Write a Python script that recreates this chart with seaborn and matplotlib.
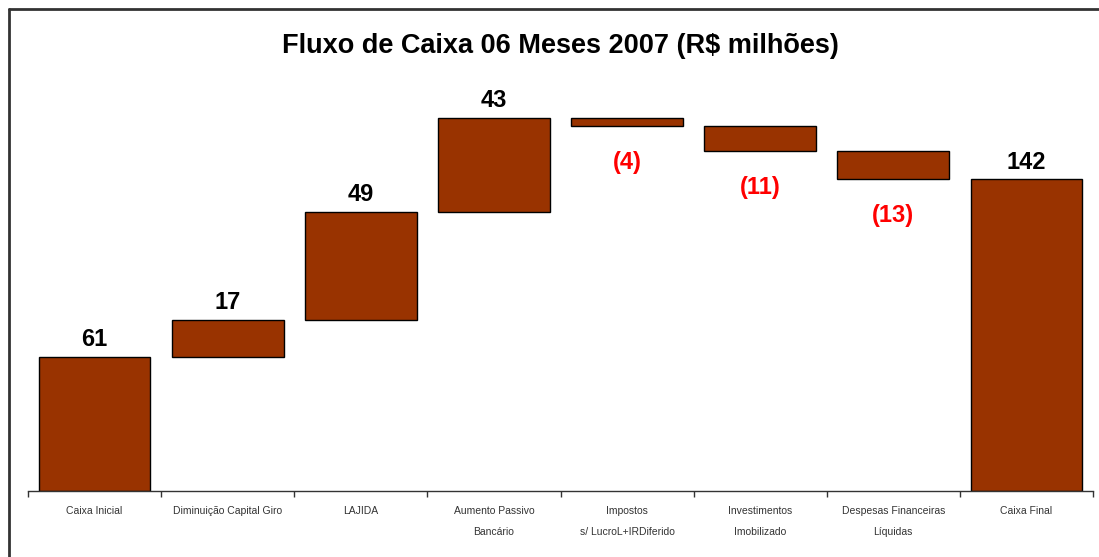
import numpy as np
import pandas as pd
import matplotlib.pyplot as plt
import seaborn as sns
from matplotlib.lines import Line2D

sns.set_theme(style="white")
plt.rcParams["font.family"] = ["Liberation Sans", "DejaVu Sans"]

# data
categories = ["Caixa Inicial", "Diminuição Capital Giro", "LAJIDA",
              "Aumento Passivo\nBancário", "Impostos\ns/ LucroL+IRDiferido",
              "Investimentos\nImobilizado", "Despesas Financeiras\nLíquidas",
              "Caixa Final"]
values = [61, 17, 49, 43, -4, -11, -13, 142]
is_total = [True, False, False, False, False, False, False, True]
value_labels = ["61", "17", "49", "43", "(4)", "(11)", "(13)", "142"]

# waterfall spans
bottoms, heights, tops = [], [], []
running = 0
for v, tot in zip(values, is_total):
    if tot:
        lo, hi = 0, v
        running = v
    else:
        lo, hi = min(running, running + v), max(running, running + v)
        running += v
    bottoms.append(lo)
    heights.append(hi - lo)
    tops.append(hi)

df = pd.DataFrame({"cat": categories, "height": heights, "bottom": bottoms, "top": tops})

W, H = 1099, 557
fig = plt.figure(figsize=(W / 100, H / 100), dpi=100)
ax = fig.add_axes([28 / W, (H - 491) / H, (1093 - 28) / W, (491 - 60) / H])

sns.barplot(data=df, x="cat", y="height", bottom=df["bottom"].values, color="#993300",
            saturation=1, width=0.84, edgecolor="black", linewidth=1.0, ax=ax)

ax.set_xlim(-0.5, len(categories) - 0.5)
ax.set_ylim(0, 196.2)
ax.set_xlabel("")
ax.set_ylabel("")
ax.set_yticks([])
for s in ["top", "right", "left"]:
    ax.spines[s].set_visible(False)
ax.spines["bottom"].set_color("#333333")
ax.spines["bottom"].set_linewidth(1.0)

# boundary ticks, labels at centres
ax.set_xticks(np.arange(-0.5, len(categories)), minor=False)
ax.set_xticklabels([""] * (len(categories) + 1))
ax.tick_params(axis="x", which="major", direction="out", length=4, width=1, color="#333333", bottom=True)
ax.set_xticks(np.arange(len(categories)), minor=True)
ax.set_xticklabels(categories, minor=True, fontsize=7.5, color="#333333", linespacing=2.3)
ax.tick_params(axis="x", which="minor", length=0, pad=11)

for i, (v, lab) in enumerate(zip(values, value_labels)):
    if v >= 0:
        ax.annotate(lab, xy=(i, df["top"][i]), xytext=(0, 4), textcoords="offset points",
                    ha="center", va="bottom", fontsize=17, fontweight="bold", color="black")
    else:
        ax.annotate(lab, xy=(i, df["bottom"][i]), xytext=(0, -18), textcoords="offset points",
                    ha="center", va="top", fontsize=17, fontweight="bold", color="#ff0000")

fig.text(0.51, 1 - 46 / H, "Fluxo de Caixa 06 Meses 2007 (R$ milhões)", ha="center", va="center",
         fontsize=19.5, fontweight="bold", color="black")

# outer frame (top and left edges visible)
fig.add_artist(Line2D([9 / W, 1.0], [1 - 9 / H, 1 - 9 / H], transform=fig.transFigure,
                      color="#333333", linewidth=2))
fig.add_artist(Line2D([9 / W, 9 / W], [1 - 9 / H, 0], transform=fig.transFigure,
                      color="#333333", linewidth=2))

fig.savefig("out.png", dpi=100)
